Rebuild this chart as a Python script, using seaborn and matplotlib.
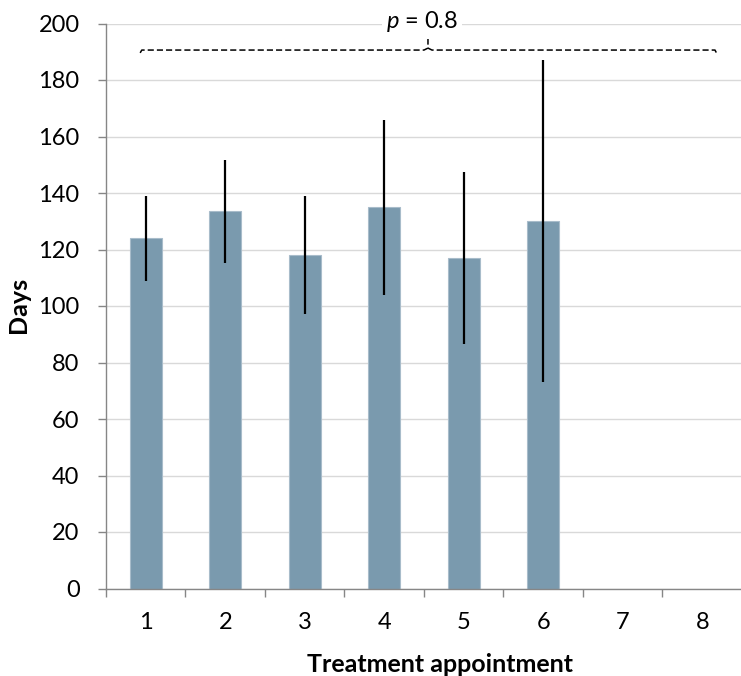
import matplotlib
matplotlib.use("Agg")
import matplotlib.pyplot as plt
import seaborn as sns
import numpy as np
import pandas as pd

# ---- data ----
categories = ["1", "2", "3", "4", "5", "6", "7", "8"]
appointments = ["1", "2", "3", "4", "5", "6"]
mean_days = [124, 133.5, 118, 135, 117, 130]
err_days = [15, 18.2, 21, 31, 30.4, 57]
p_label = "$p$ = 0.8"
x_label = "Treatment appointment"
y_label = "Days"

sns.set_theme(style="white")
plt.rcParams["font.family"] = ["Lato", "DejaVu Sans"]
plt.rcParams["mathtext.fontset"] = "custom"
plt.rcParams["mathtext.it"] = "Lato:italic"
plt.rcParams["mathtext.rm"] = "Lato"

df = pd.DataFrame({"appt": appointments, "days": mean_days})

fig = plt.figure(figsize=(7.41, 6.76), dpi=100)
W, H = 741, 676
ax = fig.add_axes([106 / W, (H - 588.5) / H, 636 / W, 565 / H])

bar_color = "#7A9AAE"
sns.barplot(data=df, x="appt", y="days", order=categories, color=bar_color,
            width=0.4, errorbar=None, saturation=1, ax=ax,
            edgecolor="#A8BCCA", linewidth=0.8, zorder=2)

xpos = [categories.index(a) for a in appointments]
ax.errorbar(xpos, mean_days, yerr=err_days, fmt="none", ecolor="black",
            elinewidth=1.6, capsize=0, zorder=3)

ax.set_xlim(-0.5, 7.5)
ax.set_ylim(0, 200)
ax.set_yticks(np.arange(0, 201, 20))
ax.yaxis.grid(True, color="#D9D9D9", linewidth=1.0, zorder=0)
ax.set_axisbelow(True)

for s in ["top", "right"]:
    ax.spines[s].set_visible(False)
for s in ["left", "bottom"]:
    ax.spines[s].set_color("#868686")
    ax.spines[s].set_linewidth(1.0)

tick_fs = 17
ax.set_xticks(range(len(categories)))
ax.set_xticklabels(categories)
ax.set_xticks(np.arange(-0.5, 8.0, 1.0), minor=True)
ax.tick_params(axis="x", which="major", length=0, pad=17, labelsize=tick_fs,
               labelcolor="black")
ax.tick_params(axis="x", which="minor", length=5.5, width=1.0,
               color="#868686", direction="out", bottom=True)
ax.tick_params(axis="y", which="major", length=6, width=1.0, color="#868686",
               direction="out", left=True, pad=13, labelsize=tick_fs,
               labelcolor="black")

ax.set_xlabel(x_label, fontsize=18, fontweight="bold", color="black")
ax.xaxis.set_label_coords(0.525, -0.114)
ax.xaxis.label.set_va("top")
ax.set_ylabel(y_label, fontsize=18, fontweight="bold", color="black")
ax.yaxis.set_label_coords(-0.138, 0.502)
ax.yaxis.label.set_va("center")

# ---- significance bracket (dashed brace) ----
yb = 190.6
xl, xm, xr = -0.07, 3.55, 7.19
ls = (0, (4, 2))
ax.plot([xl, xl + 0.02, xm - 0.05, xm, xm], [189.6, yb, yb, 191.3, 195.2],
        color="black", lw=1.1, linestyle=ls, clip_on=False, zorder=4)
ax.plot([xm, xm + 0.05, xr - 0.03, xr], [191.3, yb, yb, 189.0],
        color="black", lw=1.1, linestyle=ls, clip_on=False, zorder=4)
ax.text(3.475, 198.3, p_label, ha="center", va="baseline", fontsize=17,
        color="black", clip_on=False, zorder=5,
        bbox=dict(facecolor="white", edgecolor="none", pad=3))

fig.savefig("out.png", dpi=100)
